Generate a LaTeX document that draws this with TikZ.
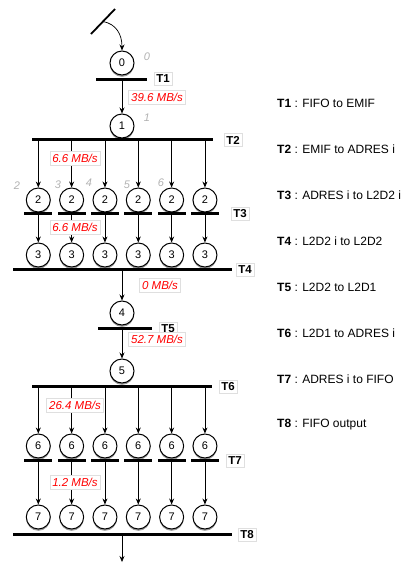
\documentclass[tikz,border=0pt]{standalone}
\usepackage{fontspec}
\setmainfont{Liberation Sans}
\usetikzlibrary{arrows.meta,shadows}

\begin{document}
\begin{tikzpicture}[x=1pt,y=-1pt,
    place/.style={circle, draw, line width=1pt, fill=white, minimum size=24pt, inner sep=0pt,
        font=\fontsize{11}{11}\selectfont,
        drop shadow={shadow xshift=0pt, shadow yshift=-1.8pt, opacity=0.8}},
    bar/.style={rectangle, fill=black, inner sep=0pt, minimum height=3pt},
    arc/.style={-{Stealth[length=6pt,width=5pt]}, line width=0.7pt},
    tlabel/.style={draw=gray!25, fill=white, inner sep=2.5pt, font=\fontsize{11.5}{11.5}\selectfont\bfseries},
    rate/.style={draw=gray!25, fill=white, inner sep=2.5pt, text=red, font=\fontsize{11.5}{11.5}\selectfont\itshape},
    tag/.style={text=gray!60, font=\fontsize{11}{11}\selectfont\itshape},
    legend/.style={anchor=west, inner sep=0pt, font=\fontsize{12}{12}\selectfont}
]
\useasboundingbox (0,0) rectangle (408,563);

% Input stroke and first arc
\coordinate (s1) at (91,34);
\coordinate (s2) at (115,9);
\coordinate (src) at (103,21.5);
\draw[line width=1.8pt] (s1) -- (s2);

% Main column, top part
\node[place] (P0) at (122,63) {0};
\node[tag] (n0) at (147,57) {0};
\node[bar, minimum width=51pt] (T1) at (121.5,79) {};
\node[tlabel] (l1) at (163,79) {T1};
\node[place] (P1) at (122,126) {1};
\node[tag] (n1) at (147,118) {1};
\node[bar, minimum width=181pt] (T2) at (122.5,139) {};
\node[tlabel] (l2) at (233,140) {T2};

\draw[arc] (src) .. controls (116,24) and (122,34) .. (P0.north);
\draw[arc] (T1.south -| P1) -- (P1);

% Six ADRES branches, first half
\foreach \i in {1,...,6}{
    \pgfmathsetmacro{\px}{38.3+33.33*(\i-1)}
    \node[place] (p2\i) at (\px,200) {2};
    \node[bar, minimum width=28pt] (t3\i) at (\px,213) {};
    \node[place] (p3\i) at (\px,255) {3};
    \draw[arc] (T2.south -| p2\i) -- (p2\i);
    \draw[arc] (t3\i) -- (p3\i);
}
\node[tag] (n2) at (17,186) {2};
\node[tag] (n3) at (58,185) {3};
\node[tag] (n4) at (89,183) {4};
\node[tag] (n5) at (127,185) {5};
\node[tag] (n6) at (161,183) {6};
\node[tlabel] (l3) at (240,214) {T3};

% Main column, middle part
\node[bar, minimum width=219pt] (T4) at (122,269) {};
\node[tlabel] (l4) at (245,270) {T4};
\node[place] (P4) at (122,313) {4};
\node[bar, minimum width=54pt] (T5) at (125,328) {};
\node[tlabel] (l5) at (168,329) {T5};
\node[place] (P5) at (122,371) {5};
\node[bar, minimum width=180pt] (T6) at (122,386) {};
\node[tlabel] (l6) at (228,387) {T6};

\draw[arc] (T4.south -| P4) -- (P4);
\draw[arc] (T5.south -| P5) -- (P5);

% Six ADRES branches, second half
\foreach \i in {1,...,6}{
    \pgfmathsetmacro{\px}{38.3+33.33*(\i-1)}
    \node[place] (p6\i) at (\px,446) {6};
    \node[bar, minimum width=28pt] (t7\i) at (\px,460) {};
    \node[place] (p7\i) at (\px,517) {7};
    \draw[arc] (T6.south -| p6\i) -- (p6\i);
    \draw[arc] (t7\i) -- (p7\i);
}
\node[tlabel] (l7) at (235,461) {T7};
\node[bar, minimum width=219pt] (T8) at (122,534) {};
\node[tlabel] (l8) at (247,535) {T8};
\coordinate (out) at (122,562);
\draw[arc] (T8.south -| out) -- (out);

% Throughput labels
\node[rate] (r1) at (157,97) {39.6 MB/s};
\node[rate] (r2) at (75,158) {6.6 MB/s};
\node[rate] (r3) at (75,227) {6.6 MB/s};
\node[rate] (r4) at (160,285) {0 MB/s};
\node[rate] (r5) at (157,339) {52.7 MB/s};
\node[rate] (r6) at (75,405) {26.4 MB/s};
\node[rate] (r7) at (75,482) {1.2 MB/s};

% Transition legend
\foreach \t/\txt [count=\k] in {T1/FIFO to EMIF, T2/EMIF to ADRES i, T3/ADRES i to L2D2 i,
    T4/L2D2 i to L2D2, T5/L2D2 to L2D1, T6/L2D1 to ADRES i, T7/ADRES i to FIFO, T8/FIFO output}{
    \node[legend] (d\k) at (277,{103+46*(\k-1)}) {\textbf{\t} : \txt};
}

\end{tikzpicture}
\end{document}
